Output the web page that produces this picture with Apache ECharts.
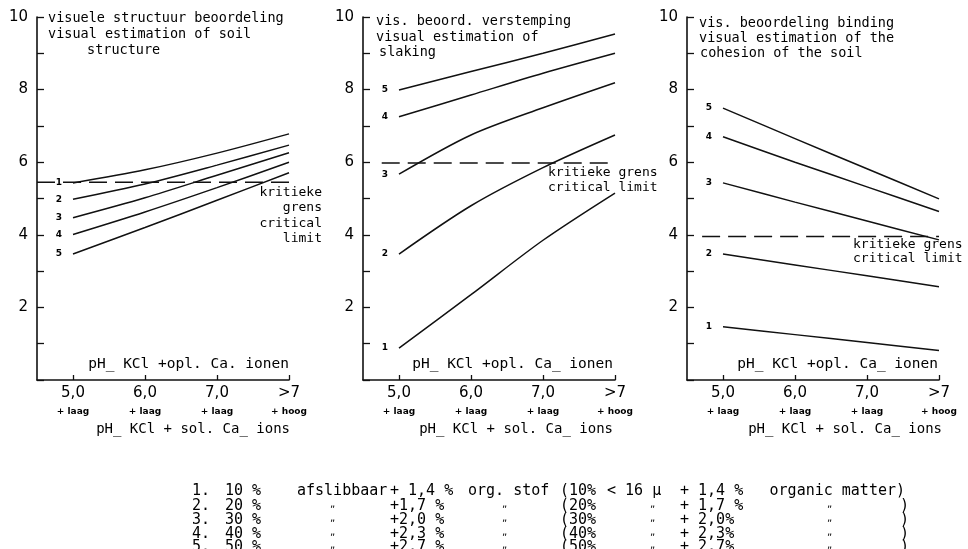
<!DOCTYPE html>
<html>
<head>
<meta charset="utf-8">
<script src="https://cdn.jsdelivr.net/npm/echarts@6/dist/echarts.min.js"></script>
<style>html,body{margin:0;padding:0;background:#fff;}#c{width:968px;height:549px;}</style>
</head>
<body>
<div id="c"></div>
<script>
// ---- data ----
const xTicks = [5, 6, 7, 8];
const xTickLabels = ['5,0', '6,0', '7,0', '>7'];
const xSubLabels = ['+ laag', '+ laag', '+ laag', '+ hoog'];
const lineNames = ['1', '2', '3', '4', '5'];

// panel 1: visual estimation of soil structure
const structure1 = [5.43, 5.79, 6.25, 6.78];
const structure2 = [4.98, 5.40, 5.92, 6.47];
const structure3 = [4.47, 5.02, 5.64, 6.26];
const structure4 = [4.01, 4.63, 5.30, 6.00];
const structure5 = [3.47, 4.20, 4.95, 5.71];
const structureLimit = 5.45;
const structureLimitFrom = 4.5;

// panel 2: visual estimation of slaking
const slaking1 = [0.88, 2.35, 3.85, 5.15];
const slaking2 = [3.47, 4.80, 5.85, 6.75];
const slaking3 = [5.67, 6.75, 7.50, 8.19];
const slaking4 = [7.25, 7.85, 8.45, 9.00];
const slaking5 = [7.99, 8.50, 9.00, 9.53];
const slakingLimit = 5.98;
const slakingLimitFrom = 4.76;

// panel 3: visual estimation of the cohesion of the soil
const cohesion1 = [1.47, 1.25, 1.03, 0.81];
const cohesion2 = [3.47, 3.17, 2.87, 2.57];
const cohesion3 = [5.43, 4.90, 4.38, 3.86];
const cohesion4 = [6.70, 6.00, 5.32, 4.64];
const cohesion5 = [7.49, 6.65, 5.82, 4.99];
const cohesionLimit = 3.95;
const cohesionLimitFrom = 4.71;

// legend texts
const legendNr = ['1.', '2.', '3.', '4.', '5.'];
const legendClay = ['10 %', '20 %', '30 %', '40 %', '50 %'];
const legendOrg = ['+ 1,4 %', '+1,7 %', '+2,0 %', '+2,3 %', '+2,7 %'];
const legendClayEn = ['(10%', '(20%', '(30%', '(40%', '(50%'];
const legendOrgEn = ['+ 1,4 %', '+ 1,7 %', '+ 2,0%', '+ 2,3%', '+ 2,7%'];

// ---- chart ----
const FONT = 'DejaVu Sans';
const MONO = 'DejaVu Sans Mono';
const INK = '#111';
const gridLefts = [37, 363, 687];
const panels = [
  {lines: [structure1, structure2, structure3, structure4, structure5], limit: structureLimit, from: structureLimitFrom},
  {lines: [slaking1, slaking2, slaking3, slaking4, slaking5], limit: slakingLimit, from: slakingLimitFrom},
  {lines: [cohesion1, cohesion2, cohesion3, cohesion4, cohesion5], limit: cohesionLimit, from: cohesionLimitFrom}
];

const grids = gridLefts.map(l => ({left: l, top: 17, width: 252, height: 363}));
const xAxes = gridLefts.map((l, i) => ({
  gridIndex: i, type: 'value', min: 4.5, max: 8, interval: 0.5,
  axisLine: {show: true, onZero: false, lineStyle: {color: INK, width: 1.6}},
  axisTick: {show: true, inside: true, length: 5, customValues: xTicks, lineStyle: {color: INK, width: 1.3}},
  axisLabel: {
    customValues: xTicks, margin: 3, color: '#000',
    formatter: v => { const k = xTicks.indexOf(v); return k < 0 ? '' : '{a|' + xTickLabels[k] + '}\n{b|' + xSubLabels[k] + '}'; },
    rich: {
      a: {fontSize: 15, fontFamily: FONT, color: '#000', lineHeight: 20},
      b: {fontSize: 9, fontFamily: FONT, fontWeight: 'bold', color: '#000', lineHeight: 18}
    }
  },
  splitLine: {show: false}
}));
const yAxes = gridLefts.map((l, i) => ({
  gridIndex: i, type: 'value', min: 0, max: 10, interval: 2,
  axisLine: {show: true, lineStyle: {color: INK, width: 1.6}},
  axisTick: {show: true, inside: true, length: 7, lineStyle: {color: INK, width: 1.3}},
  minorTick: {show: true, splitNumber: 2, length: 7, lineStyle: {color: INK, width: 1.3}},
  axisLabel: {formatter: v => v === 0 ? '' : String(v), fontSize: 15, fontFamily: FONT, color: '#000', margin: 9},
  splitLine: {show: false}
}));

const series = [];
panels.forEach((p, i) => {
  p.lines.forEach((vals, j) => {
    series.push({
      type: 'line', xAxisIndex: i, yAxisIndex: i, smooth: 0.3,
      showSymbol: true, symbol: 'circle', symbolSize: 0, silent: true,
      lineStyle: {color: INK, width: 1.5},
      itemStyle: {color: INK},
      data: vals.map((v, k) => k === 0 ? {
        value: [xTicks[k], v],
        label: {show: true, position: 'left', distance: 11, formatter: lineNames[j],
                fontSize: 9, fontWeight: 'bold', fontFamily: FONT, color: '#000'}
      } : [xTicks[k], v])
    });
  });
  series.push({
    type: 'line', xAxisIndex: i, yAxisIndex: i, symbol: 'none', silent: true,
    lineStyle: {color: INK, width: 1.5, type: [18, 8]},
    data: [[p.from, p.limit], [xTicks[xTicks.length - 1], p.limit]]
  });
});

function txt(x, y, text, o) {
  o = o || {};
  return {type: 'text', x: x, y: y, silent: true, style: {
    text: text, fill: '#000', fontSize: o.size || 13.5, fontFamily: o.family || MONO,
    fontWeight: o.weight || 'normal',
    textAlign: o.align || 'left', textVerticalAlign: 'middle'
  }};
}

const g = [];
// titles
g.push(txt(48, 18, 'visuele structuur beoordeling'));
g.push(txt(48, 34, 'visual estimation of soil'));
g.push(txt(87, 50, 'structure'));
g.push(txt(376, 21, 'vis. beoord. verstemping'));
g.push(txt(376, 37, 'visual estimation of'));
g.push(txt(379, 52, 'slaking'));
g.push(txt(699, 23, 'vis. beoordeling binding'));
g.push(txt(699, 38, 'visual estimation of the'));
g.push(txt(700, 53, 'cohesion of the soil'));
// critical limit labels
g.push(txt(322, 193, 'kritieke', {align: 'right', size: 13}));
g.push(txt(322, 208, 'grens', {align: 'right', size: 13}));
g.push(txt(322, 224, 'critical', {align: 'right', size: 13}));
g.push(txt(322, 239, 'limit', {align: 'right', size: 13}));
g.push(txt(548, 173, 'kritieke grens', {size: 13}));
g.push(txt(548, 188, 'critical limit', {size: 13}));
g.push(txt(853, 245, 'kritieke grens', {size: 13}));
g.push(txt(853, 259, 'critical limit', {size: 13}));
// axis names
const innerNames = ['pH_ KCl +opl. Ca. ionen', 'pH_ KCl +opl. Ca_ ionen', 'pH_ KCl +opl. Ca_ ionen'];
const outerNames = ['pH_ KCl + sol. Ca_ ions', 'pH_ KCl + sol. Ca_ ions', 'pH_ KCl + sol. Ca_ ions'];
const innerRight = [289, 613, 938];
const outerRight = [290, 613, 942];
for (let i = 0; i < 3; i++) {
  g.push(txt(innerRight[i], 364, innerNames[i], {align: 'right', size: 14.5}));
  g.push(txt(outerRight[i], 429, outerNames[i], {align: 'right', size: 14}));
}
// legend
const rowY = [491, 506, 520, 534, 547];
const LS = 15;
for (let r = 0; r < 5; r++) {
  const y = rowY[r];
  g.push(txt(192, y, legendNr[r], {size: LS}));
  g.push(txt(225, y, legendClay[r], {size: LS}));
  g.push(txt(390, y, legendOrg[r], {size: LS}));
  g.push(txt(560, y, legendClayEn[r], {size: LS}));
  g.push(txt(680, y, legendOrgEn[r], {size: LS}));
  if (r === 0) {
    g.push(txt(297, y, 'afslibbaar', {size: LS}));
    g.push(txt(468, y, 'org. stof', {size: LS}));
    g.push(txt(607, y, '< 16 μ', {size: LS}));
    g.push(txt(905, y, 'organic matter)', {align: 'right', size: LS}));
  } else {
    g.push(txt(330, y - 2, '„', {size: 10, family: FONT}));
    g.push(txt(502, y - 2, '„', {size: 10, family: FONT}));
    g.push(txt(650, y - 2, '„', {size: 10, family: FONT}));
    g.push(txt(827, y - 2, '„', {size: 10, family: FONT}));
    g.push(txt(900, y, ')', {size: LS}));
  }
}

const chart = echarts.init(document.getElementById('c'), null, {renderer: 'canvas'});
chart.setOption({
  animation: false,
  backgroundColor: '#fff',
  grid: grids,
  xAxis: xAxes,
  yAxis: yAxes,
  series: series,
  graphic: g
});
</script>
</body>
</html>
